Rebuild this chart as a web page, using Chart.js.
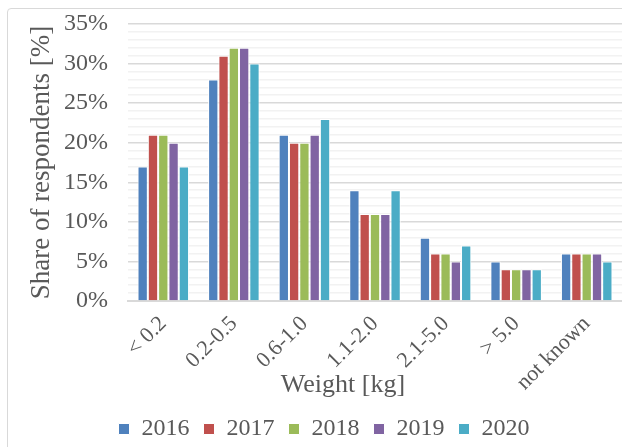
<!DOCTYPE html>
<html>
<head>
<meta charset="utf-8">
<script src="https://cdn.jsdelivr.net/npm/chart.js@4/dist/chart.umd.min.js"></script>
<style>
  html, body { margin: 0; padding: 0; background: #fff; }
  #frame {
    position: absolute; left: 7px; top: 8px; width: 700px; height: 500px;
    border: 1.5px solid #d9d9d9; border-radius: 4px; box-sizing: border-box;
  }
  #wrap { position: absolute; left: 0; top: 0; width: 622px; height: 447px; }
</style>
</head>
<body>
<div id="frame"></div>
<div id="wrap"><canvas id="chart" width="622" height="447"></canvas></div>
<script>
// weight classes
const categories = ['< 0.2', '0.2-0.5', '0.6-1.0', '1.1-2.0', '2.1-5.0', '> 5.0', 'not known'];
const years = ['2016', '2017', '2018', '2019', '2020'];

// share of respondents [%] per year
const share2016 = [17, 28, 21, 14, 8, 5, 6];
const share2017 = [21, 31, 20, 11, 6, 4, 6];
const share2018 = [21, 32, 20, 11, 6, 4, 6];
const share2019 = [20, 32, 21, 11, 5, 4, 6];
const share2020 = [17, 30, 23, 14, 7, 4, 5];

const colors = ['#4F81BD', '#C0504D', '#9BBB59', '#8064A2', '#4BACC6'];
const series = [share2016, share2017, share2018, share2019, share2020];

const textColor = '#595959';
const serif = "'Liberation Serif', 'Times New Roman', serif";

// x axis title, centred on the whole chart like Excel does it
const xTitlePlugin = {
  id: 'xTitle',
  afterDraw(chart) {
    const c = chart.ctx;
    c.save();
    c.fillStyle = textColor;
    c.font = '26px ' + serif;
    c.textAlign = 'center';
    c.textBaseline = 'middle';
    c.fillText('Weight [kg]', 343, chart.chartArea.bottom + 84);
    c.restore();
  }
};

new Chart(document.getElementById('chart'), {
  type: 'bar',
  data: {
    labels: categories,
    datasets: series.map((vals, i) => ({
      label: years[i],
      data: vals,
      backgroundColor: colors[i],
      borderColor: '#ffffff',
      borderWidth: 1,
      categoryPercentage: 0.73,
      barPercentage: 1
    }))
  },
  options: {
    responsive: false,
    animation: false,
    layout: { padding: { top: 24, left: 26, right: 0, bottom: -4 } },
    plugins: {
      tooltip: { enabled: false },
      legend: {
        position: 'bottom',
        labels: {
          color: textColor,
          font: { family: serif, size: 24 },
          boxWidth: 11,
          boxHeight: 11,
          padding: 14
        }
      }
    },
    scales: {
      x: {
        grid: { display: false },
        border: { color: '#d9d9d9', width: 2 },
        ticks: {
          color: textColor,
          font: { family: serif, size: 22 },
          maxRotation: 45,
          minRotation: 45,
          padding: 2
        },
        afterFit: (axis) => { axis.height = 102; }
      },
      y: {
        min: 0,
        max: 35,
        border: { display: false },
        grid: {
          drawTicks: false,
          color: (ctx) => (ctx.tick && ctx.tick.value % 5 === 0 ? '#d9d9d9' : '#f2f2f2'),
          lineWidth: 1.5
        },
        ticks: {
          stepSize: 1,
          autoSkip: false,
          color: textColor,
          font: { family: serif, size: 24 },
          padding: 20,
          callback: (v) => (v % 5 === 0 ? v + '%' : '')
        },
        title: {
          display: true,
          text: 'Share of respondents [%]',
          color: textColor,
          font: { family: serif, size: 27 },
          padding: { top: 0, bottom: 0 }
        },
        afterFit: (axis) => {
          axis.width = 102;
          axis.paddingTop = 0;
          axis.paddingBottom = 0;
        }
      }
    }
  },
  plugins: [xTitlePlugin]
});
</script>
</body>
</html>
